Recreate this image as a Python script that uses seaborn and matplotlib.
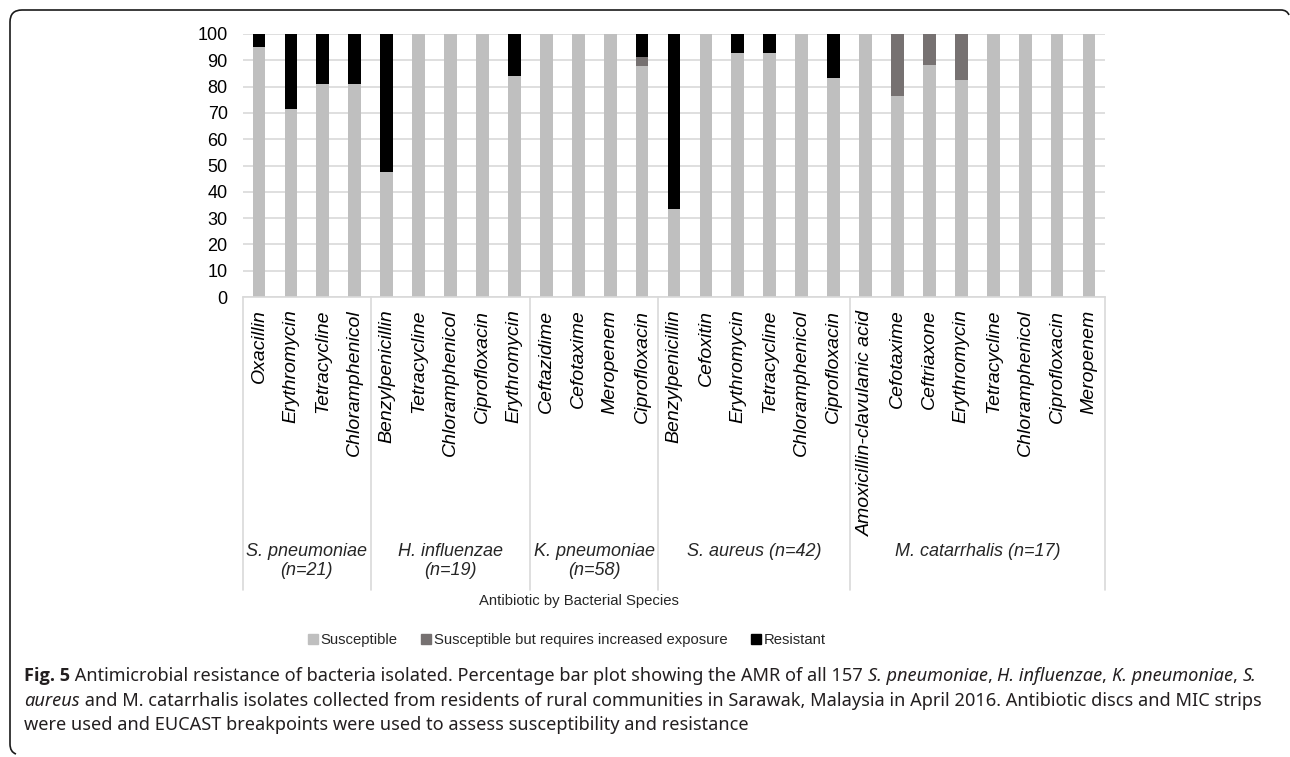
import matplotlib
matplotlib.use("Agg")
from matplotlib import pyplot as plt
import matplotlib.transforms as mtransforms
from matplotlib.patches import Patch, PathPatch
from matplotlib.path import Path
import seaborn as sns
import numpy as np
import pandas as pd

sns.set_theme(style="white")
plt.rcParams['font.family'] = ['Liberation Sans', 'DejaVu Sans']

# data (percent of isolates)
species = ["S. pneumoniae\n(n=21)", "H. influenzae\n(n=19)", "K. pneumoniae\n(n=58)",
           "S. aureus (n=42)", "M. catarrhalis (n=17)"]
sp_drugs = ["Oxacillin", "Erythromycin", "Tetracycline", "Chloramphenicol"]
hi_drugs = ["Benzylpenicillin", "Tetracycline", "Chloramphenicol", "Ciprofloxacin", "Erythromycin"]
kp_drugs = ["Ceftazidime", "Cefotaxime", "Meropenem", "Ciprofloxacin"]
sa_drugs = ["Benzylpenicillin", "Cefoxitin", "Erythromycin", "Tetracycline", "Chloramphenicol", "Ciprofloxacin"]
mc_drugs = ["Amoxicillin-clavulanic acid", "Cefotaxime", "Ceftriaxone", "Erythromycin",
            "Tetracycline", "Chloramphenicol", "Ciprofloxacin", "Meropenem"]

susceptible = [95.2, 71.4, 81.0, 81.0,
               47.4, 100, 100, 100, 84.2,
               100, 100, 100, 87.9,
               33.3, 100, 92.9, 92.9, 100, 83.3,
               100, 76.5, 88.2, 82.4, 100, 100, 100, 100]
intermediate = [0, 0, 0, 0,
                0, 0, 0, 0, 0,
                0, 0, 0, 3.4,
                0, 0, 0, 0, 0, 0,
                0, 23.5, 11.8, 17.6, 0, 0, 0, 0]
resistant = [4.8, 28.6, 19.0, 19.0,
             52.6, 0, 0, 0, 15.8,
             0, 0, 0, 8.7,
             66.7, 0, 7.1, 7.1, 0, 16.7,
             0, 0, 0, 0, 0, 0, 0, 0]

groups = [sp_drugs, hi_drugs, kp_drugs, sa_drugs, mc_drugs]
drugs = []
keys = []
for sp, dl in zip(species, groups):
    for d in dl:
        drugs.append(d)
        keys.append(sp + "|" + d)

df = pd.DataFrame({"key": keys, "S": susceptible, "I": intermediate, "R": resistant})
df["SI"] = df["S"] + df["I"]
df["SIR"] = df["SI"] + df["R"]

c_s, c_i, c_r = "#bfbfbf", "#767171", "#000000"

W, H = 1290, 757
fig = plt.figure(figsize=(W / 100, H / 100), dpi=100)
ax = fig.add_axes([243 / W, 1 - 297 / H, (1105 - 243) / W, (297 - 34) / H])

# stacked bars by layering the cumulative heights
sns.barplot(data=df, x="key", y="SIR", color=c_r, width=0.4, saturation=1, linewidth=0, ax=ax)
sns.barplot(data=df, x="key", y="SI", color=c_i, width=0.4, saturation=1, linewidth=0, ax=ax)
sns.barplot(data=df, x="key", y="S", color=c_s, width=0.4, saturation=1, linewidth=0, ax=ax)

ax.set_xlim(-0.5, len(keys) - 0.5)
ax.set_ylim(0, 100)
ax.set_yticks(np.arange(0, 101, 10))
ax.yaxis.grid(True, color="#d9d9d9", lw=1.2)
ax.set_axisbelow(True)
for s in ["top", "right", "left"]:
    ax.spines[s].set_visible(False)
ax.spines["bottom"].set_color("#d9d9d9")
ax.spines["bottom"].set_linewidth(1.2)
ax.set_xlabel("")
ax.set_ylabel("")
ax.set_xticks(range(len(drugs)))
ax.set_xticklabels(drugs, rotation=90, fontstyle="italic", fontsize=14, color="#000000")
ax.tick_params(axis="x", length=0, pad=9)
ax.tick_params(axis="y", length=0, pad=11, labelsize=13, labelcolor="#000000")

# group labels and separators under the axis
trans = mtransforms.blended_transform_factory(ax.transData, fig.transFigure)
edges = np.cumsum([0] + [len(g) for g in groups]) - 0.5
for e in edges:
    ax.plot([e, e], [1 - 297 / H, 1 - 590 / H], color="#d9d9d9", lw=1.2,
            transform=trans, clip_on=False)
for sp, a, b in zip(species, edges[:-1], edges[1:]):
    ax.text((a + b) / 2, 1 - 543 / H, sp, transform=trans, ha="center", va="top",
            fontsize=13, fontstyle="italic", linespacing=1.15)

fig.text(579 / W, 1 - 601 / H, "Antibiotic by Bacterial Species", ha="center", va="center",
         fontsize=10.7)

handles = [Patch(color=c_s, label="Susceptible"),
           Patch(color=c_i, label="Susceptible but requires increased exposure"),
           Patch(color=c_r, label="Resistant")]
fig.legend(handles=handles, loc="center", bbox_to_anchor=(567 / W, 1 - 640 / H), ncol=3,
           frameon=False, fontsize=10.7, handlelength=0.65, handleheight=0.65,
           handletextpad=0.2, columnspacing=1.6)

# caption, drawn piece by piece so bold / italic runs can sit inline
cap_font = ['Noto Sans', 'Open Sans', 'DejaVu Sans']
cap_lines = [
    [("Fig. 5", "bold"), (" Antimicrobial resistance of bacteria isolated. Percentage bar plot showing the AMR of all 157 ", "normal"),
     ("S. pneumoniae", "italic"), (", ", "normal"), ("H. influenzae", "italic"), (", ", "normal"),
     ("K. pneumoniae", "italic"), (", ", "normal"), ("S.", "italic")],
    [("aureus", "italic"), (" and M. catarrhalis isolates collected from residents of rural communities in Sarawak, "
                            "Malaysia in April 2016. Antibiotic discs and MIC strips", "normal")],
    [("were used and EUCAST breakpoints were used to assess susceptibility and resistance", "normal")],
]
renderer = fig.canvas.get_renderer()
for i, line in enumerate(cap_lines):
    x = 24
    y = 1 - (676 + 24.5 * i) / H
    for txt, style in line:
        kw = dict(fontsize=13.1, color="#231f20", va="center", ha="left")
        if style == "bold":
            kw.update(family=['Open Sans', 'Noto Sans', 'DejaVu Sans'], fontweight="bold")
        else:
            kw.update(family=cap_font, fontstyle=style)
        t = fig.text(x / W, y, txt, **kw)
        # measure with a sentinel so leading / trailing spaces count
        p = fig.text(0, 0, txt + "|", **kw)
        q = fig.text(0, 0, "|", **kw)
        x += p.get_window_extent(renderer).width - q.get_window_extent(renderer).width
        p.remove()
        q.remove()

# rounded frame: top edge and left edge
px = lambda x, y: (x / W, 1 - y / H)
verts = [px(1289, 15), px(1287, 10), px(1281, 10), px(22, 10), px(10, 10), px(10, 22),
         px(10, 744), px(10, 752), px(16, 754)]
codes = [Path.MOVETO, Path.CURVE3, Path.CURVE3, Path.LINETO, Path.CURVE3, Path.CURVE3,
         Path.LINETO, Path.CURVE3, Path.CURVE3]
fig.patches.append(PathPatch(Path(verts, codes), transform=fig.transFigure, fill=False,
                             lw=1.2, edgecolor="#1a1a1a"))

plt.savefig("out.png", dpi=100)
